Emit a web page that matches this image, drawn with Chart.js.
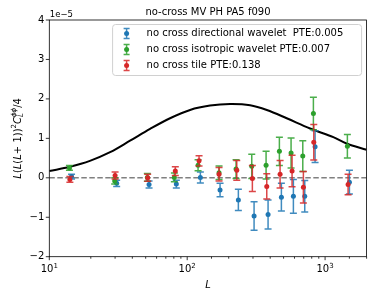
<!DOCTYPE html>
<html>
<head>
<meta charset="utf-8">
<script src="https://cdn.jsdelivr.net/npm/chart.js@4.4.1/dist/chart.umd.min.js"></script>
<style>
  html, body { margin: 0; padding: 0; background: #fff; }
</style>
</head>
<body>
<canvas id="myChart" width="374" height="297"></canvas>
<script>
// --- data (values in units of 1e-5) ---
const seriesNames = [
    'no cross directional wavelet  PTE:0.005',
    'no cross isotropic wavelet PTE:0.007',
    'no cross tile PTE:0.138'
];
const seriesColors = ['#1f77b4', '#2ca02c', '#d62728'];

const dirL   = [14.5, 30.8, 52.9, 83.4, 124.6, 173.1, 235, 305.5, 385.9, 482, 589, 712, 846, 1501];
const dirVal = [0.03, -0.14, -0.17, -0.16, 0.01, -0.31, -0.56, -0.97, -0.93, -0.49, -0.47, -0.47, 0.79, -0.11];
const dirErr = [0.06, 0.08, 0.09, 0.10, 0.14, 0.17, 0.27, 0.36, 0.37, 0.35, 0.43, 0.40, 0.40, 0.30];

const isoL   = [14.0, 29.8, 51.4, 80.7, 119.9, 170.2, 226.1, 293.9, 373.3, 466.2, 566.6, 689, 822.6, 1451];
const isoVal = [0.25, -0.08, 0.01, 0.01, 0.32, 0.13, 0.22, 0.29, 0.32, 0.67, 0.63, 0.55, 1.63, 0.80];
const isoErr = [0.06, 0.08, 0.10, 0.11, 0.14, 0.17, 0.24, 0.31, 0.35, 0.36, 0.38, 0.39, 0.41, 0.30];

const tileL   = [14.1, 30.0, 51.7, 82.0, 121.9, 170.2, 228.8, 296.9, 377.6, 471.6, 576.1, 696, 827.9, 1468];
const tileVal = [-0.04, 0.06, 0.00, 0.17, 0.43, 0.09, 0.19, -0.02, -0.22, 0.09, 0.17, -0.24, 0.90, -0.17];
const tileErr = [0.07, 0.09, 0.09, 0.11, 0.13, 0.17, 0.25, 0.33, 0.32, 0.35, 0.40, 0.40, 0.45, 0.26];

// theory curve (black)
const theoryL   = [10, 14.1, 19.7, 27.6, 38.5, 53.8, 75.1, 104.9, 146.5, 205, 286, 378, 527, 778, 1148, 1430, 2000];
const theoryVal = [0.17, 0.28, 0.43, 0.65, 0.94, 1.24, 1.51, 1.72, 1.83, 1.87, 1.84, 1.72, 1.51, 1.25, 1.03, 0.87, 0.71];

const xMin = 10, xMax = 2000;
const yMin = -2, yMax = 4;
const xMajorTicks = [10, 100, 1000];
const xMajorExp = ['1', '2', '3'];
const yTicks = [-2, -1, 0, 1, 2, 3, 4];
const yTickLabels = ['\u22122', '\u22121', '0', '1', '2', '3', '4'];

const FONT = '"DejaVu Sans", sans-serif';

function pts(xs, ys) {
    return xs.map((x, i) => ({ x: x, y: ys[i] }));
}

function hexA(hex, a) {
    const n = parseInt(hex.slice(1), 16);
    return 'rgba(' + (n >> 16) + ',' + ((n >> 8) & 255) + ',' + (n & 255) + ',' + a + ')';
}

const errorSets = [
    { label: seriesNames[0], L: dirL, v: dirVal, e: dirErr, color: seriesColors[0], order: 3 },
    { label: seriesNames[1], L: isoL, v: isoVal, e: isoErr, color: seriesColors[1], order: 2 },
    { label: seriesNames[2], L: tileL, v: tileVal, e: tileErr, color: seriesColors[2], order: 1 }
];

const datasets = errorSets.map(s => ({
    type: 'scatter',
    label: s.label,
    data: pts(s.L, s.v),
    errors: s.e,
    backgroundColor: s.color,
    borderColor: s.color,
    pointRadius: 2.5,
    pointBorderWidth: 0,
    order: s.order
}));

datasets.push({
    type: 'line',
    label: 'theory',
    data: pts(theoryL, theoryVal),
    borderColor: '#000',
    borderWidth: 2,
    pointRadius: 0,
    tension: 0.35,
    order: 4
});

datasets.push({
    type: 'line',
    label: 'zero',
    data: [{ x: xMin, y: 0 }, { x: xMax, y: 0 }],
    borderColor: '#808080',
    borderWidth: 1.5,
    borderDash: [5.5, 2.5],
    pointRadius: 0,
    order: 5
});

const extras = {
    id: 'extras',
    beforeDatasetDraw(chart, args) {
        const ds = chart.data.datasets[args.index];
        if (!ds.errors) return;
        const ctx = chart.ctx, xs = chart.scales.x, ys = chart.scales.y;
        ctx.save();
        ctx.strokeStyle = hexA(ds.borderColor, 0.85);
        ctx.lineWidth = 1.5;
        ds.data.forEach((p, i) => {
            const x = xs.getPixelForValue(p.x);
            const y1 = ys.getPixelForValue(p.y - ds.errors[i]);
            const y2 = ys.getPixelForValue(p.y + ds.errors[i]);
            ctx.beginPath();
            ctx.moveTo(x, y1); ctx.lineTo(x, y2);
            ctx.moveTo(x - 3.5, y1); ctx.lineTo(x + 3.5, y1);
            ctx.moveTo(x - 3.5, y2); ctx.lineTo(x + 3.5, y2);
            ctx.stroke();
        });
        ctx.restore();
    },
    afterDraw(chart) {
        const ctx = chart.ctx, a = chart.chartArea;
        const xs = chart.scales.x, ys = chart.scales.y;
        ctx.save();

        // frame
        ctx.strokeStyle = '#000';
        ctx.lineWidth = 0.8;
        ctx.strokeRect(a.left, a.top, a.right - a.left, a.bottom - a.top);

        // x ticks (major + minor)
        ctx.beginPath();
        xs.ticks.forEach(t => {
            const x = xs.getPixelForValue(t.value);
            if (x < a.left - 0.5 || x > a.right + 0.5) return;
            const major = xMajorTicks.includes(t.value);
            ctx.moveTo(x, a.bottom);
            ctx.lineTo(x, a.bottom + (major ? 3.5 : 2));
        });
        // y ticks
        yTicks.forEach(v => {
            const y = ys.getPixelForValue(v);
            ctx.moveTo(a.left, y);
            ctx.lineTo(a.left - 3.5, y);
        });
        ctx.stroke();

        // x tick labels 10^n
        ctx.fillStyle = '#000';
        ctx.textBaseline = 'alphabetic';
        xMajorTicks.forEach((v, i) => {
            const x = xs.getPixelForValue(v);
            ctx.font = '10px ' + FONT;
            const w1 = ctx.measureText('10').width;
            ctx.font = '7px ' + FONT;
            const w2 = ctx.measureText(xMajorExp[i]).width;
            const x0 = x - (w1 + w2) / 2;
            ctx.font = '10px ' + FONT;
            ctx.textAlign = 'left';
            ctx.fillText('10', x0, a.bottom + 15);
            ctx.font = '7px ' + FONT;
            ctx.fillText(xMajorExp[i], x0 + w1, a.bottom + 11);
        });

        // y tick labels
        ctx.font = '10px ' + FONT;
        ctx.textAlign = 'right';
        ctx.textBaseline = 'middle';
        yTicks.forEach((v, i) => {
            ctx.fillText(yTickLabels[i], a.left - 5, ys.getPixelForValue(v));
        });

        // offset text
        ctx.textAlign = 'left';
        ctx.textBaseline = 'alphabetic';
        ctx.font = '8.5px ' + FONT;
        ctx.fillText('1e\u22125', a.left + 0.5, a.top - 3);

        // title
        ctx.font = '10px ' + FONT;
        ctx.textAlign = 'center';
        ctx.fillText('no-cross MV PH PA5 f090', (a.left + a.right) / 2, 15);

        // x axis label
        ctx.font = 'italic 10px ' + FONT;
        ctx.fillText('L', (a.left + a.right) / 2, a.bottom + 31);

        // y axis label: L(L(L+1))^2 C_L^{phi phi}/4
        const parts = [
            { t: 'L', it: true }, { t: '(' }, { t: 'L', it: true }, { t: '(' },
            { t: 'L', it: true }, { t: '+ 1))' }, { t: '2', sup: true },
            { t: 'C', it: true }, { t: 'L', it: true, sub: true, keep: true },
            { t: '\u03d5\u03d5', it: true, sup: true }, { t: '/4' }
        ];
        const fontOf = p => (p.it ? 'italic ' : '') + ((p.sup || p.sub) ? '7px ' : '10px ') + FONT;
        let total = 0;
        parts.forEach(p => {
            ctx.font = fontOf(p);
            p.w = ctx.measureText(p.t).width;
            if (!p.keep) total += p.w;
        });
        ctx.translate(17, (a.top + a.bottom) / 2);
        ctx.rotate(-Math.PI / 2);
        ctx.textAlign = 'left';
        let cx = -total / 2;
        parts.forEach(p => {
            ctx.font = fontOf(p);
            const dy = p.sup ? -4.5 : (p.sub ? 2.5 : 0);
            ctx.fillText(p.t, cx, 3.5 + dy);
            if (!p.keep) cx += p.w;
        });
        ctx.setTransform(1, 0, 0, 1, 0, 0);

        // legend
        const lx = a.right - 5 - 249, ly = a.top + 4.5, lw = 249, lh = 51;
        ctx.beginPath();
        ctx.roundRect(lx, ly, lw, lh, 3);
        ctx.fillStyle = 'rgba(255,255,255,0.85)';
        ctx.fill();
        ctx.strokeStyle = '#d0d0d0';
        ctx.lineWidth = 1;
        ctx.stroke();
        ctx.font = '10px ' + FONT;
        ctx.textBaseline = 'middle';
        errorSets.forEach((s, i) => {
            const ry = ly + 9 + i * 16;
            const mx = lx + 14;
            ctx.strokeStyle = hexA(s.color, 0.85);
            ctx.lineWidth = 1.5;
            ctx.beginPath();
            ctx.moveTo(mx, ry - 5); ctx.lineTo(mx, ry + 5);
            ctx.moveTo(mx - 3, ry - 5); ctx.lineTo(mx + 3, ry - 5);
            ctx.moveTo(mx - 3, ry + 5); ctx.lineTo(mx + 3, ry + 5);
            ctx.stroke();
            ctx.fillStyle = s.color;
            ctx.beginPath();
            ctx.arc(mx, ry, 2.5, 0, Math.PI * 2);
            ctx.fill();
            ctx.fillStyle = '#000';
            ctx.fillText(s.label, lx + 34, ry);
        });
        ctx.restore();
    }
};

new Chart(document.getElementById('myChart'), {
    data: { datasets: datasets },
    options: {
        responsive: false,
        animation: false,
        devicePixelRatio: 1,
        layout: { padding: { top: 20, right: 7.4, left: 0, bottom: 0 } },
        plugins: {
            legend: { display: false },
            tooltip: { enabled: false },
            title: { display: false }
        },
        scales: {
            x: {
                type: 'logarithmic',
                min: xMin,
                max: xMax,
                grid: { display: false },
                border: { display: false },
                ticks: { display: false },
                afterFit: s => { s.height = 40.3; }
            },
            y: {
                type: 'linear',
                min: yMin,
                max: yMax,
                grid: { display: false },
                border: { display: false },
                ticks: { display: false },
                afterFit: s => { s.width = 49.3; }
            }
        }
    },
    plugins: [extras]
});
</script>
</body>
</html>
